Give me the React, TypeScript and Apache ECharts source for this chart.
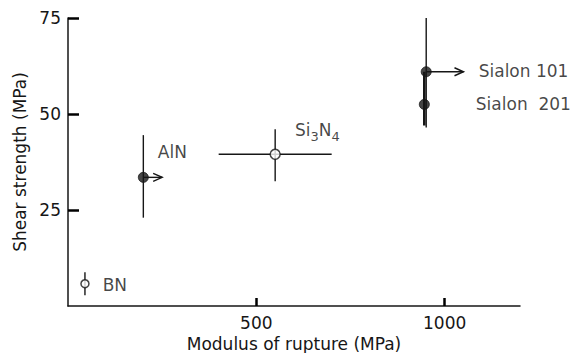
import React, { useEffect, useRef } from "react";
import * as echarts from "echarts";

const names = ["BN", "AlN", "Si3N4", "Sialon 101", "Sialon 201"];
const labelTexts = ["BN", "AlN", "Si{sub|3}N{sub|4}", "Sialon 101", "Sialon  201"];
const modulus = [45, 200, 550, 951, 946];
const shear = [5.8, 33.5, 39.5, 61, 52.5];
const shearLow = [2.8, 23, 32.5, 46.5, 47];
const shearHigh = [8.8, 44.5, 46, 75, 61];
const modulusLow: (number | null)[] = [null, null, 400, null, null];
const modulusHigh: (number | null)[] = [null, null, 700, null, null];
const arrowTo: (number | null)[] = [null, 250, null, 1050, null];
const filled = [false, true, false, true, true];

const xTickStep = 500;
const xMax = 1200;
const yTickStep = 25;
const yMax = 75;

const INK = "#161616";
const FONT = "DejaVu Sans";

export default function App() {
  const ref = useRef<HTMLDivElement>(null);
  useEffect(() => {
    if (!ref.current) return;
    const chart = echarts.init(ref.current, null, { renderer: "svg" });

    const labelLayout = [
      { distance: 13, offset: [0, 1] },
      { distance: 9, offset: [0, -25] },
      { distance: 14, offset: [0, -24] },
      { distance: 47, offset: [0, -1] },
      { distance: 46, offset: [0, 0] },
    ];

    const option: any = {
      animation: false,
      grid: { left: 68, right: 56, top: 18, bottom: 47, outerBoundsMode: "none" },
      xAxis: {
        type: "value",
        min: 0,
        max: xMax,
        interval: xTickStep,
        name: "Modulus of rupture (MPa)",
        nameLocation: "middle",
        nameGap: 27,
        nameTextStyle: { fontSize: 17, color: INK, fontFamily: FONT },
        axisLine: { show: true, lineStyle: { color: INK, width: 1.5 } },
        axisTick: { show: true, inside: true, length: 8, lineStyle: { color: "#000", width: 2.5 } },
        axisLabel: {
          fontSize: 17,
          color: INK,
          fontFamily: FONT,
          margin: 8,
          showMinLabel: false,
          showMaxLabel: false,
          formatter: (v: number) => String(v),
        },
        splitLine: { show: false },
      },
      yAxis: {
        type: "value",
        min: 0,
        max: yMax,
        interval: yTickStep,
        name: "Shear strength (MPa)",
        nameLocation: "middle",
        nameGap: 37,
        nameTextStyle: { fontSize: 17, color: INK, fontFamily: FONT },
        axisLine: { show: true, lineStyle: { color: INK, width: 1.5 } },
        axisTick: { show: true, inside: true, length: 11, lineStyle: { color: "#000", width: 2.5 } },
        axisLabel: {
          fontSize: 17,
          color: INK,
          fontFamily: FONT,
          margin: 7,
          showMinLabel: false,
        },
        splitLine: { show: false },
      },
      series: [
        {
          type: "custom",
          name: "error bars",
          data: modulus.map((x, i) => [x, shear[i]]),
          renderItem: (params: any, api: any) => {
            const i = params.dataIndex;
            const children: any[] = [];
            const thick = names[i] === "Sialon 201";
            const lw = thick ? 2.6 : 1.4;
            const top = api.coord([modulus[i], shearHigh[i]]);
            const bot = api.coord([modulus[i], shearLow[i]]);
            children.push({
              type: "line",
              shape: { x1: top[0], y1: top[1], x2: bot[0], y2: bot[1] },
              style: { stroke: INK, lineWidth: lw },
            });
            if (modulusLow[i] != null && modulusHigh[i] != null) {
              const l = api.coord([modulusLow[i], shear[i]]);
              const r = api.coord([modulusHigh[i], shear[i]]);
              children.push({
                type: "line",
                shape: { x1: l[0], y1: l[1], x2: r[0], y2: r[1] },
                style: { stroke: INK, lineWidth: 1.4 },
              });
            }
            if (arrowTo[i] != null) {
              const s = api.coord([modulus[i], shear[i]]);
              const e = api.coord([arrowTo[i], shear[i]]);
              children.push({
                type: "line",
                shape: { x1: s[0], y1: s[1], x2: e[0], y2: e[1] },
                style: { stroke: INK, lineWidth: 1.4 },
              });
              children.push({
                type: "polyline",
                shape: { points: [[e[0] - 9, e[1] - 4], [e[0], e[1]], [e[0] - 9, e[1] + 4]] },
                style: { stroke: INK, lineWidth: 1.4, fill: "none" },
              });
            }
            return { type: "group", children };
          },
          z: 2,
        },
        {
          type: "scatter",
          name: "points",
          z: 3,
          data: modulus.map((x, i) => ({
            value: [x, shear[i]],
            symbolSize: filled[i] ? 10 : i === 0 ? 8 : 10,
            itemStyle: filled[i]
              ? { color: INK, borderColor: INK, borderWidth: 1 }
              : { color: "#ffffff", borderColor: INK, borderWidth: 1.5 },
            label: {
              show: true,
              position: "right",
              distance: labelLayout[i].distance,
              offset: labelLayout[i].offset,
              formatter: labelTexts[i],
              fontSize: 17,
              fontFamily: FONT,
              color: INK,
              rich: {
                sub: { fontSize: 13, fontFamily: FONT, color: INK, padding: [12, 0, 0, 0], verticalAlign: "bottom" },
              },
            },
          })),
        },
      ],
    };
    chart.setOption(option);
    return () => chart.dispose();
  }, []);
  return (
    <div
      ref={ref}
      style={{ position: "fixed", left: 0, top: 0, width: 576, height: 353, background: "#fff" }}
    />
  );
}
